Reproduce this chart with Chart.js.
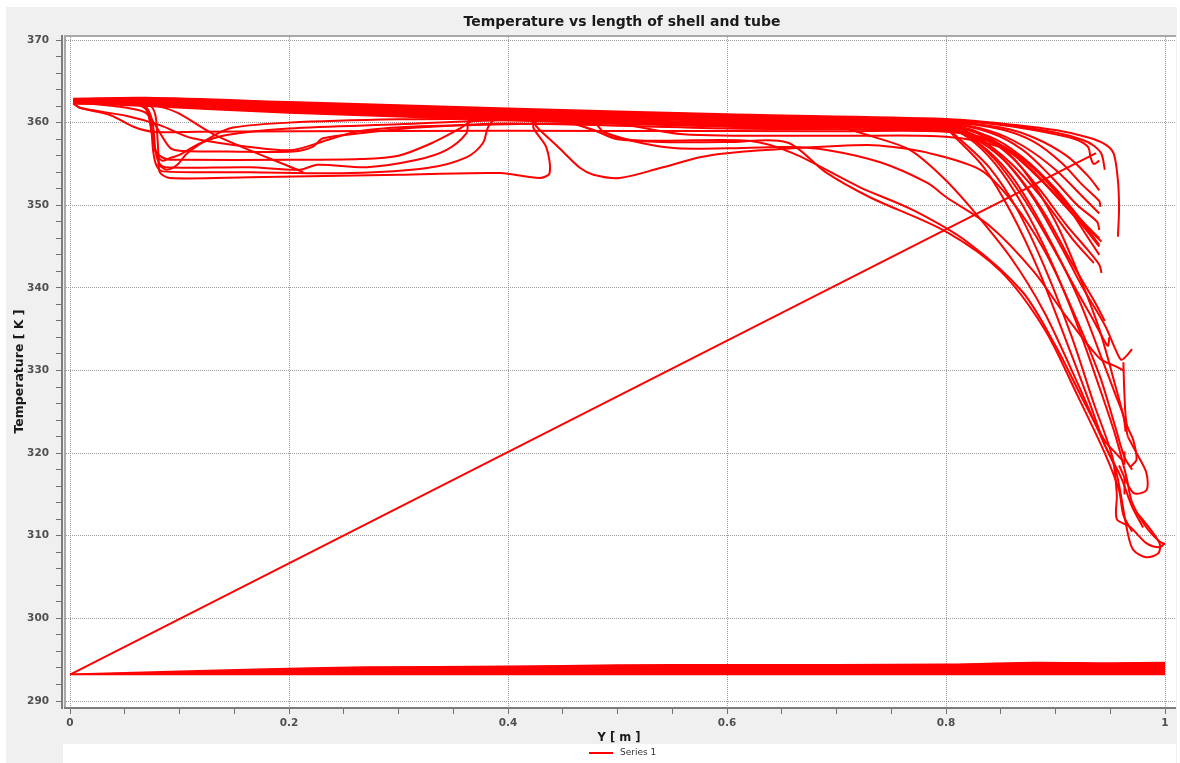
<!DOCTYPE html>
<html><head><meta charset="utf-8">
<script src="https://cdn.jsdelivr.net/npm/chart.js@4.4.0/dist/chart.umd.min.js"></script>
<style>html,body{margin:0;padding:0;background:#fff;}canvas{display:block;}</style>
</head><body>
<canvas id="c" width="1180" height="763"></canvas>
<script>
// ---------- texts & ticks ----------
const chartTitle = 'Temperature vs length of shell and tube';
const xAxisTitle = 'Y [ m ]';
const yAxisTitle = 'Temperature [ K ]';
const seriesName = 'Series 1';
const xMajorTicks = [0, 0.2, 0.4, 0.6, 0.8, 1];
const yMajorTicks = [290, 300, 310, 320, 330, 340, 350, 360, 370];
const xMinorStep = 0.05;
const yMinorStep = 2;

// ---------- data: polylines of [Y (m), Temperature (K)] ----------
const topBandCurves = [
 [[0.003,362.9],[0.07,363.0],[0.2,362.5],[0.4,361.7],[0.6,361.0],[0.8,360.45],[0.85,359.9],[0.9,359.1],[0.93,358.2],[0.945,357.4],[0.953,356.3],[0.957,353.0],[0.958,349.5],[0.957,346.2]],
 [[0.003,362.8],[0.07,362.9],[0.2,362.4],[0.4,361.6],[0.6,360.9],[0.8,360.35],[0.85,359.8],[0.9,358.8],[0.925,357.9],[0.935,357.2],[0.942,356.2],[0.945,354.3]],
 [[0.003,362.8],[0.07,362.8],[0.2,362.3],[0.4,361.5],[0.6,360.8],[0.8,360.25],[0.85,359.7],[0.9,358.6],[0.92,357.9],[0.93,357.0],[0.932,355.8],[0.935,355.0],[0.94,355.4]],
 [[0.003,362.7],[0.07,362.7],[0.2,362.2],[0.4,361.4],[0.6,360.7],[0.8,360.15],[0.85,359.4],[0.88,358.2],[0.91,356.0],[0.93,353.5],[0.94,351.8]],
 [[0.003,362.6],[0.07,362.6],[0.2,362.1],[0.4,361.3],[0.6,360.6],[0.8,360.05],[0.85,359.2],[0.88,357.7],[0.905,355.2],[0.925,352.4],[0.94,350.5],[0.941,349.8]],
 [[0.003,362.5],[0.07,362.5],[0.2,362.0],[0.4,361.2],[0.6,360.5],[0.8,359.95],[0.84,359.0],[0.87,357.2],[0.9,354.3],[0.925,351.0],[0.94,349.0]],
 [[0.003,362.5],[0.07,362.4],[0.2,361.9],[0.4,361.1],[0.6,360.4],[0.8,359.85],[0.84,358.8],[0.87,356.7],[0.895,353.6],[0.92,350.0],[0.938,348.0],[0.94,347.0]],
 [[0.003,362.4],[0.07,362.3],[0.2,361.8],[0.4,361.0],[0.6,360.3],[0.8,359.75],[0.83,358.8],[0.86,356.3],[0.89,352.6],[0.915,349.0],[0.935,346.5],[0.942,345.6]],
 [[0.003,362.4],[0.07,362.2],[0.2,361.7],[0.4,360.9],[0.6,360.2],[0.8,359.65],[0.83,358.6],[0.86,355.8],[0.885,352.0],[0.91,347.6],[0.93,344.5],[0.94,342.8],[0.942,341.8]],
 [[0.003,362.3],[0.07,362.4],[0.2,361.6],[0.4,360.8],[0.6,360.0],[0.8,359.55],[0.83,358.2],[0.855,355.2],[0.88,350.8],[0.905,345.0],[0.925,340.0],[0.945,335.5],[0.955,332.5],[0.96,331.3],[0.965,331.8],[0.97,332.6]],
 [[0.003,362.6],[0.07,362.5],[0.2,361.5],[0.4,360.6],[0.6,359.9],[0.8,359.45],[0.82,358.4],[0.845,355.5],[0.87,351.0],[0.895,345.5],[0.92,339.5],[0.935,336.0],[0.945,333.5],[0.948,333.0],[0.949,334.0]],
 [[0.003,362.7],[0.07,362.3],[0.2,361.4],[0.4,360.5],[0.6,359.8],[0.8,359.35],[0.82,358.2],[0.845,355.0],[0.87,350.0],[0.895,343.5],[0.92,335.5],[0.94,328.0],[0.955,322.0],[0.965,317.0],[0.97,314.0],[0.983,311.0],[0.995,309.3],[1.0,309.0]],
 [[0.003,362.5],[0.07,362.1],[0.2,361.3],[0.4,360.4],[0.6,359.6],[0.8,359.2],[0.81,358.3],[0.84,354.5],[0.865,349.5],[0.89,342.5],[0.915,334.0],[0.935,326.0],[0.952,319.5],[0.956,315.0],[0.956,312.0],[0.968,311.1],[0.983,309.1],[0.995,308.6],[1.0,309.1]],
 [[0.003,362.4],[0.07,362.0],[0.2,361.2],[0.4,360.3],[0.6,359.5],[0.8,359.1],[0.81,358.0],[0.835,354.5],[0.86,349.0],[0.885,342.0],[0.91,333.5],[0.93,326.5],[0.945,321.0],[0.955,318.0],[0.966,310.3],[0.971,308.3],[0.983,307.4],[0.994,307.9],[0.995,309.1],[0.98,311.9],[0.974,312.8]]
];

const gentleDropCurves = [
 [[0.003,362.6],[0.07,362.5],[0.2,361.9],[0.4,361.0],[0.45,360.4],[0.478,359.1],[0.5,358.1],[0.54,357.65],[0.6,357.65],[0.655,357.6],[0.69,354.0],[0.73,351.0],[0.8,346.8],[0.85,342.0],[0.89,335.0],[0.92,327.0],[0.945,320.0],[0.958,315.5],[0.962,312.5],[0.97,310.5]],
 [[0.003,362.5],[0.07,362.4],[0.2,361.8],[0.4,360.9],[0.45,360.2],[0.48,359.0],[0.5,358.0],[0.54,357.8],[0.62,357.8],[0.66,356.3],[0.721,352.2],[0.77,349.4],[0.82,345.5],[0.87,339.5],[0.9,333.0],[0.925,326.5],[0.945,321.5],[0.955,320.0],[0.962,319.0]],
 [[0.003,362.4],[0.07,362.3],[0.2,361.6],[0.4,360.7],[0.48,359.8],[0.487,358.9],[0.523,357.5],[0.554,356.9],[0.6,356.9],[0.655,357.05],[0.691,356.7],[0.74,355.2],[0.783,352.7],[0.8,351.0],[0.84,347.5],[0.88,342.0],[0.91,336.5],[0.94,331.5],[0.955,330.5],[0.962,330.0]],
 [[0.003,362.7],[0.07,362.6],[0.2,362.0],[0.4,361.1],[0.6,360.2],[0.7,359.5],[0.733,358.3],[0.767,356.7],[0.797,353.4],[0.822,349.8],[0.86,343.5],[0.89,337.0],[0.92,328.5],[0.945,321.0],[0.96,317.0],[0.97,313.5],[0.98,311.0]]
];

const lowerLoopCurves = [
 [[0.003,362.6],[0.06,362.4],[0.073,362.1],[0.078,360.9],[0.08,357.9],[0.081,355.5],[0.082,354.0],[0.091,353.3],[0.164,353.4],[0.301,353.7],[0.393,353.9],[0.429,353.3],[0.438,353.9],[0.435,357.0],[0.423,359.5],[0.43,360.4],[0.5,359.9],[0.56,358.6],[0.7,358.4],[0.8,358.3],[0.85,357.0],[0.88,354.5],[0.91,350.0],[0.93,346.0],[0.94,344.0]],
 [[0.003,362.5],[0.06,362.3],[0.068,362.1],[0.075,360.3],[0.078,356.7],[0.081,355.2],[0.087,354.6],[0.164,354.6],[0.21,354.3],[0.226,354.9],[0.271,354.6],[0.317,355.5],[0.344,356.7],[0.362,358.7],[0.365,360.3],[0.4,360.6],[0.6,359.7],[0.8,359.3],[0.83,357.5],[0.86,353.5],[0.89,347.0],[0.92,339.0],[0.945,330.5],[0.955,327.0],[0.962,324.5],[0.964,322.6]],
 [[0.003,362.3],[0.06,362.2],[0.07,361.7],[0.074,359.5],[0.076,356.5],[0.079,354.8],[0.085,354.1],[0.164,354.0],[0.256,353.9],[0.326,354.5],[0.362,355.8],[0.377,357.5],[0.382,359.5],[0.39,360.5],[0.6,359.9],[0.8,359.4],[0.84,358.3],[0.87,355.8],[0.9,352.0],[0.925,348.0],[0.94,346.0]],
 [[0.003,362.7],[0.07,362.6],[0.2,362.0],[0.4,360.9],[0.42,360.3],[0.429,359.1],[0.447,356.9],[0.466,354.5],[0.478,353.7],[0.502,353.3],[0.539,354.5],[0.575,355.8],[0.6,356.3],[0.66,356.9],[0.728,357.3],[0.752,357.05],[0.782,356.4],[0.831,354.3],[0.86,350.5],[0.89,344.5],[0.915,337.5],[0.94,329.5],[0.955,323.0],[0.963,319.5],[0.97,318.0]],
 [[0.003,362.7],[0.06,362.4],[0.08,362.0],[0.098,361.2],[0.134,358.4],[0.213,354.0]],
 [[0.003,362.5],[0.04,362.0],[0.052,361.8],[0.07,361.1],[0.091,357.0],[0.1,356.6],[0.144,356.5],[0.204,356.5],[0.222,357.1],[0.231,358.1],[0.271,358.8],[0.317,359.4],[0.4,359.9],[0.6,359.3],[0.8,359.0],[0.83,358.0],[0.86,355.0],[0.89,350.5],[0.915,346.0],[0.935,343.0]],
 [[0.003,362.3],[0.009,361.8],[0.052,360.8],[0.082,359.7],[0.112,358.1],[0.174,356.9],[0.204,356.7],[0.235,357.9],[0.265,359.0],[0.33,359.6],[0.5,359.9],[0.7,359.5],[0.8,359.2],[0.84,357.8],[0.87,355.3],[0.9,351.3],[0.925,347.5],[0.94,345.0]],
 [[0.003,362.6],[0.065,362.3],[0.072,361.0],[0.076,358.0],[0.078,356.5],[0.084,355.4],[0.091,355.7],[0.1,356.1],[0.119,357.5],[0.143,358.5],[0.2,359.3],[0.3,359.8],[0.4,360.3],[0.6,359.7],[0.8,359.2],[0.85,357.0],[0.875,353.5],[0.9,348.0],[0.92,342.0],[0.94,335.0],[0.955,328.0],[0.963,324.0],[0.966,322.0]],
 [[0.003,362.4],[0.009,361.8],[0.037,360.9],[0.058,359.5],[0.076,358.9],[0.116,358.9],[0.3,359.0],[0.5,359.0],[0.7,358.95],[0.8,358.9],[0.84,357.9],[0.87,355.6],[0.9,351.8],[0.925,347.8],[0.94,345.2]],
 [[0.003,362.5],[0.06,362.2],[0.07,361.5],[0.075,358.5],[0.079,356.4],[0.088,355.6],[0.1,355.5],[0.2,355.5],[0.265,355.6],[0.3,356.0],[0.33,357.5],[0.355,359.2],[0.37,360.3],[0.5,360.2],[0.7,359.7],[0.8,359.3],[0.83,357.8],[0.86,354.5],[0.89,349.0],[0.915,343.0],[0.935,338.5],[0.945,336.0]],
 [[0.08,355.0],[0.088,354.3],[0.098,354.9],[0.107,356.3],[0.131,358.4],[0.149,359.4],[0.2,360.0],[0.3,360.4],[0.4,360.5]]
];

const rightHookCurves = [
 [[0.962,331.0],[0.963,327.0],[0.965,323.5],[0.971,321.6],[0.974,319.2],[0.968,318.3]],
 [[0.958,318.5],[0.971,315.2],[0.983,315.5],[0.983,317.6],[0.974,320.0],[0.966,322.0]],
 [[0.963,320.2],[0.963,318.6]],
 [[0.963,317.2],[0.963,315.0]]
];

const diagonalLine = [[0.0,293.2],[0.937,356.3]];

const bottomBandLower = [[0.0,293.2],[0.1,293.2],[0.5,293.2],[1.0,293.2]];
const bottomBandUpper = [[0.0,293.25],[0.1,293.6],[0.17,293.85],[0.27,294.1],[0.4,294.2],[0.5,294.35],[0.6,294.4],[0.7,294.4],[0.8,294.45],[0.88,294.65],[0.95,294.6],[1.0,294.65]];

// ---------- chart ----------
const RED = '#ff0000';
const curveList = [].concat(topBandCurves, gentleDropCurves, lowerLoopCurves, rightHookCurves, [diagonalLine]);
const datasets = curveList.map(c => ({
  label: seriesName, data: c, borderColor: RED, backgroundColor: RED,
  borderWidth: 2, pointRadius: 0, tension: 0.3, fill: false
}));
datasets.push({label: seriesName, data: bottomBandLower, borderColor: RED, borderWidth: 1.5, pointRadius: 0, tension: 0.3, fill: false});
datasets.push({label: seriesName, data: bottomBandUpper, borderColor: RED, backgroundColor: RED, borderWidth: 1.5, pointRadius: 0, tension: 0.3, fill: '-1'});

const isMajorX = v => xMajorTicks.some(t => Math.abs(t - v) < 1e-6);
const isMajorY = v => yMajorTicks.some(t => Math.abs(t - v) < 1e-6);
const tickFont = {family: 'DejaVu Sans', size: 10.5, weight: 'bold'};
const GRID = '#9a9a9a';

const decor = {
  id: 'decor',
  beforeDraw(chart) {
    const {ctx} = chart; const a = chart.chartArea;
    ctx.save();
    ctx.fillStyle = '#ffffff'; ctx.fillRect(0, 0, 1180, 763);
    ctx.fillStyle = '#f0f0f0'; ctx.fillRect(6, 7, 1171, 756);
    ctx.fillStyle = '#ffffff';
    ctx.fillRect(a.left + 3, a.top, a.right - a.left - 3, a.bottom - a.top);
    ctx.fillRect(63, 744, 1113, 19);
    ctx.restore();
  },
  afterDraw(chart) {
    const {ctx} = chart; const a = chart.chartArea;
    ctx.save();
    ctx.strokeStyle = '#a8a8a8'; ctx.lineWidth = 2;
    ctx.beginPath(); ctx.moveTo(a.left + 3, a.bottom); ctx.lineTo(a.left + 3, a.top + 1); ctx.lineTo(a.right, a.top + 1); ctx.stroke();
    ctx.strokeStyle = '#7c7c7c'; ctx.lineWidth = 2;
    ctx.beginPath(); ctx.moveTo(a.left, a.top); ctx.lineTo(a.left, a.bottom + 1); ctx.stroke();
    ctx.beginPath(); ctx.moveTo(a.left + 2, a.bottom); ctx.lineTo(a.right, a.bottom); ctx.stroke();
    ctx.fillStyle = '#1a1a1a'; ctx.font = 'bold 14px "DejaVu Sans"';
    ctx.textAlign = 'center'; ctx.textBaseline = 'middle';
    ctx.fillText(chartTitle, 622, 22);
    ctx.strokeStyle = RED; ctx.lineWidth = 2;
    ctx.beginPath(); ctx.moveTo(589, 753); ctx.lineTo(613, 753); ctx.stroke();
    ctx.fillStyle = '#333333'; ctx.font = '9px "DejaVu Sans"'; ctx.textAlign = 'left';
    ctx.fillText(seriesName, 620, 753);
    ctx.restore();
  }
};

new Chart(document.getElementById('c'), {
  type: 'line',
  data: {datasets},
  plugins: [decor],
  options: {
    responsive: false, animation: false, events: [],
    layout: {padding: {top: 35, left: 0, right: 4, bottom: 18}},
    plugins: {legend: {display: false}, title: {display: false}, tooltip: {enabled: false}},
    scales: {
      x: {
        type: 'linear', min: -8 / 1095, max: 1 + 11 / 1095,
        afterBuildTicks: s => { const t = []; for (let i = 0; i <= 20; i++) t.push({value: +(i * xMinorStep).toFixed(4)}); s.ticks = t; },
        afterFit: s => { s.height = 37; },
        ticks: {autoSkip: false, maxRotation: 0, padding: 3, color: '#505050', font: tickFont,
          callback: v => isMajorX(v) ? String(+v.toFixed(1)) : ''},
        grid: {color: c => (c.tick && isMajorX(c.tick.value)) ? GRID : 'rgba(0,0,0,0)', lineWidth: 1,
          tickColor: '#707070', tickLength: 6, drawTicks: true},
        border: {display: false, dash: [1, 1]},
        title: {display: true, text: xAxisTitle, color: '#1a1a1a', font: {family: 'DejaVu Sans', size: 11.5, weight: 'bold'}, padding: {top: 0, bottom: 0.5}}
      },
      y: {
        type: 'linear', min: 290 - 7 / 8.2625, max: 370 + 5 / 8.2625,
        afterBuildTicks: s => { const t = []; for (let v = 290; v <= 370; v += yMinorStep) t.push({value: v}); s.ticks = t; },
        afterFit: s => { s.width = 62; },
        ticks: {autoSkip: false, padding: 7, color: '#505050', font: tickFont,
          callback: v => isMajorY(v) ? String(v) : ''},
        grid: {color: c => (c.tick && isMajorY(c.tick.value)) ? GRID : 'rgba(0,0,0,0)', lineWidth: 1,
          tickColor: '#707070', tickLength: 6, drawTicks: true},
        border: {display: false, dash: [1, 1]},
        title: {display: true, text: yAxisTitle, color: '#1a1a1a', font: {family: 'DejaVu Sans', size: 12.5, weight: 'bold'}, padding: {top: 12.5, bottom: 0}}
      }
    }
  }
});
</script>
</body></html>
